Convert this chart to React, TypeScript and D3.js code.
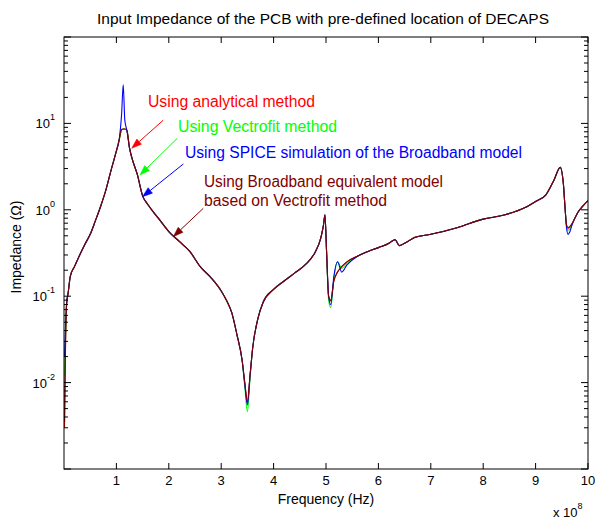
import React from 'react';
import * as d3 from 'd3';

// Frequency in units of 1e8 Hz
const freq = [
  0.01, 0.03, 0.05, 0.08, 0.12, 0.2, 0.3, 0.4, 0.5, 0.6,
  0.7, 0.8, 0.9, 1.0, 1.05, 1.1, 1.13, 1.16, 1.2, 1.25,
  1.3, 1.4, 1.5, 1.6, 1.8, 2.0, 2.2, 2.4, 2.6, 2.8,
  3.0, 3.1, 3.2, 3.3, 3.4, 3.45, 3.5, 3.55, 3.6, 3.7,
  3.8, 4.0, 4.2, 4.4, 4.6, 4.8, 4.9, 4.95, 4.98, 5.01,
  5.05, 5.09, 5.15, 5.22, 5.3, 5.4, 5.6, 5.8, 6.0, 6.2,
  6.25, 6.32, 6.4, 6.5, 6.7, 7.0, 7.5, 8.0, 8.4, 8.8,
  9.0, 9.2, 9.35, 9.47, 9.53, 9.56, 9.59, 9.62, 9.65, 9.7,
  9.8, 9.9, 10.0,
];

const analytical = [
  0.003, 0.03, 0.08, 0.11, 0.17, 0.22, 0.3, 0.4, 0.52, 0.75,
  1.1, 1.7, 2.9, 4.8, 6.3, 8.5, 8.6, 8.6, 8.3, 5.2,
  3.9, 2.55, 1.45, 1.15, 0.8, 0.56, 0.43, 0.33, 0.22, 0.165,
  0.115, 0.09, 0.065, 0.036, 0.018, 0.01, 0.0058, 0.012, 0.025, 0.055,
  0.085, 0.12, 0.15, 0.185, 0.23, 0.33, 0.47, 0.65, 0.87, 0.34,
  0.1, 0.09, 0.15, 0.19, 0.22, 0.25, 0.29, 0.33, 0.365, 0.41,
  0.43, 0.45, 0.385, 0.41, 0.48, 0.52, 0.62, 0.78, 0.87, 1.06,
  1.25, 1.5, 2.2, 3.1, 2.0, 1.1, 0.67, 0.61, 0.63, 0.7,
  0.92, 1.1, 1.28,
];

const vectfit = [
  0.012, 0.035, 0.08, 0.11, 0.17, 0.22, 0.3, 0.4, 0.52, 0.75,
  1.1, 1.7, 2.9, 4.8, 6.3, 8.5, 8.6, 8.6, 8.3, 5.2,
  3.9, 2.55, 1.45, 1.15, 0.8, 0.56, 0.43, 0.33, 0.22, 0.165,
  0.115, 0.09, 0.065, 0.036, 0.018, 0.009, 0.0046, 0.011, 0.025, 0.055,
  0.085, 0.12, 0.15, 0.185, 0.23, 0.33, 0.47, 0.65, 0.86, 0.33,
  0.09, 0.074, 0.16, 0.25, 0.21, 0.24, 0.29, 0.33, 0.365, 0.41,
  0.43, 0.45, 0.385, 0.41, 0.48, 0.52, 0.62, 0.78, 0.87, 1.06,
  1.25, 1.5, 2.2, 3.1, 2.0, 1.1, 0.66, 0.58, 0.6, 0.7,
  0.92, 1.1, 1.28,
];

const spice = [
  0.02, 0.045, 0.085, 0.11, 0.17, 0.22, 0.3, 0.4, 0.52, 0.75,
  1.1, 1.7, 2.9, 4.8, 6.3, 13, 28, 11, 8.3, 5.2,
  3.9, 2.55, 1.45, 1.15, 0.8, 0.56, 0.43, 0.33, 0.22, 0.165,
  0.115, 0.09, 0.065, 0.036, 0.018, 0.0095, 0.0055, 0.012, 0.025, 0.055,
  0.085, 0.12, 0.15, 0.185, 0.23, 0.33, 0.47, 0.66, 0.88, 0.34,
  0.1, 0.08, 0.17, 0.25, 0.19, 0.23, 0.29, 0.33, 0.365, 0.41,
  0.43, 0.45, 0.385, 0.41, 0.48, 0.52, 0.62, 0.78, 0.87, 1.06,
  1.25, 1.5, 2.2, 3.1, 2.0, 1.1, 0.62, 0.52, 0.55, 0.68,
  0.92, 1.1, 1.28,
];

const broadband = [
  0.0035, 0.03, 0.08, 0.11, 0.17, 0.22, 0.3, 0.4, 0.52, 0.75,
  1.1, 1.7, 2.9, 4.8, 6.3, 8.5, 8.6, 8.6, 8.3, 5.2,
  3.9, 2.55, 1.45, 1.15, 0.8, 0.56, 0.43, 0.33, 0.22, 0.165,
  0.115, 0.09, 0.065, 0.036, 0.018, 0.01, 0.006, 0.012, 0.025, 0.055,
  0.085, 0.12, 0.15, 0.185, 0.23, 0.33, 0.47, 0.65, 0.87, 0.34,
  0.1, 0.088, 0.15, 0.19, 0.22, 0.25, 0.29, 0.33, 0.365, 0.41,
  0.43, 0.45, 0.385, 0.41, 0.48, 0.52, 0.62, 0.78, 0.87, 1.06,
  1.25, 1.5, 2.2, 3.1, 2.0, 1.1, 0.67, 0.62, 0.64, 0.7,
  0.92, 1.1, 1.28,
];

const xTickValues = [1, 2, 3, 4, 5, 6, 7, 8, 9, 10];
const yDecades = [-3, -2, -1, 0, 1, 2];
const yLabelExps = [-2, -1, 0, 1];

const seriesNames = ['analytical', 'vectfit', 'spice', 'broadband'];
const seriesColors = ['#ff0000', '#00ff00', '#0000ff', '#800000'];

const labelTexts = [
  'Using analytical method',
  'Using Vectrofit method',
  'Using SPICE simulation of the Broadband model',
  'Using Broadband equivalent model',
  'based on Vectrofit method',
];
const labelColors = ['#ff0000', '#00ff00', '#0000ff', '#800000', '#800000'];
// label anchors in data coordinates (freq x1e8, impedance)
const labelF = [1.603, 2.176, 2.309, 2.672, 2.672];
const labelV = [15.5, 7.94, 3.93, 1.86, 1.107];
const labelWidths = [167, 159, 337, 239, 183];

// arrows: start and tip in data coordinates
const arrowColors = ['#ff0000', '#00ff00', '#0000ff', '#800000'];
const arrowStartF = [1.895, 2.162, 2.277, 2.658];
const arrowStartV = [10.9, 6.72, 3.39, 1.04];
const arrowTipF = [1.292, 1.45, 1.498, 2.086];
const arrowTipV = [5.15, 2.53, 1.418, 0.489];

const W = 595;
const H = 521;
const L = 64, R = 588, T = 37, B = 469;
const FONT = '"Liberation Sans", Arial, sans-serif';

export default function App() {
  const x = d3.scaleLinear().domain([0, 10]).range([L, R]);
  const y = d3.scaleLog().domain([1e-3, 1e2]).range([B, T]);
  const allSeries = [analytical, vectfit, spice, broadband];

  const line = d3
    .line<number>()
    .x((_, i) => x(freq[i]))
    .y((d) => y(d))
    .curve(d3.curveMonotoneX);

  const minorTicks: number[] = [];
  yDecades.slice(0, -1).forEach((e) => {
    for (let k = 2; k <= 9; k++) minorTicks.push(k * Math.pow(10, e));
  });

  return (
    <svg
      width={W}
      height={H}
      style={{ position: 'absolute', left: 0, top: 0, background: '#fff' }}
      fontFamily={FONT}
    >
      <rect x={0} y={0} width={W} height={H} fill="#fff" />
      <defs>
        <clipPath id="plotclip">
          <rect x={L} y={T} width={R - L} height={B - T} />
        </clipPath>
      </defs>

      {/* title */}
      <text x={97} y={24} fontSize={15} textLength={452} lengthAdjust="spacingAndGlyphs" fill="#000">
        Input Impedance of the PCB with pre-defined location of DECAPS
      </text>

      {/* series */}
      <g clipPath="url(#plotclip)">
        {allSeries.map((s, i) => (
          <path
            key={seriesNames[i]}
            d={line(s) || ''}
            fill="none"
            stroke={seriesColors[i]}
            strokeWidth={1.1}
          />
        ))}
      </g>

      {/* axes box */}
      <rect x={L} y={T} width={R - L} height={B - T} fill="none" stroke="#000" strokeWidth={1} />

      {/* x ticks */}
      {xTickValues.map((v) => (
        <g key={'xt' + v}>
          <line x1={x(v)} x2={x(v)} y1={B} y2={B - 6} stroke="#000" />
          <line x1={x(v)} x2={x(v)} y1={T} y2={T + 6} stroke="#000" />
          <text x={x(v)} y={485} fontSize={13} textAnchor="middle" fill="#000">
            {v}
          </text>
        </g>
      ))}

      {/* y major ticks */}
      {yDecades.map((e) => (
        <g key={'yd' + e}>
          <line x1={L} x2={L + 7} y1={y(Math.pow(10, e))} y2={y(Math.pow(10, e))} stroke="#000" />
          <line x1={R} x2={R - 7} y1={y(Math.pow(10, e))} y2={y(Math.pow(10, e))} stroke="#000" />
        </g>
      ))}
      {minorTicks.map((v, i) => (
        <g key={'ym' + i}>
          <line x1={L} x2={L + 4} y1={y(v)} y2={y(v)} stroke="#000" />
          <line x1={R} x2={R - 4} y1={y(v)} y2={y(v)} stroke="#000" />
        </g>
      ))}
      {yLabelExps.map((e) => (
        <text key={'yl' + e} x={55} y={y(Math.pow(10, e)) + 5} fontSize={13} textAnchor="end" fill="#000">
          10
          <tspan fontSize={9} dy={-8}>
            {e}
          </tspan>
        </text>
      ))}

      {/* axis labels */}
      <text x={(L + R) / 2} y={504} fontSize={14} textAnchor="middle" fill="#000">
        Frequency (Hz)
      </text>
      <text x={553} y={517} fontSize={13} fill="#000">
        x 10
        <tspan fontSize={9} dy={-8}>
          8
        </tspan>
      </text>
      <text
        transform={`translate(21, 247) rotate(-90)`}
        fontSize={14}
        textAnchor="middle"
        fill="#000"
      >
        Impedance (Ω)
      </text>

      {/* annotations */}
      {labelTexts.map((t, i) => (
        <text
          key={'lab' + i}
          x={x(labelF[i])}
          y={y(labelV[i])}
          fontSize={16}
          fill={labelColors[i]}
          textLength={labelWidths[i]}
          lengthAdjust="spacingAndGlyphs"
        >
          {t}
        </text>
      ))}
      {arrowColors.map((c, i) => {
        const x0 = x(arrowStartF[i]);
        const y0 = y(arrowStartV[i]);
        const x1 = x(arrowTipF[i]);
        const y1 = y(arrowTipV[i]);
        const ang = Math.atan2(y1 - y0, x1 - x0);
        const len = 10;
        const hw = 3.5;
        const bx = x1 - len * Math.cos(ang);
        const by = y1 - len * Math.sin(ang);
        const px = -Math.sin(ang) * hw;
        const py = Math.cos(ang) * hw;
        return (
          <g key={'ar' + i}>
            <line x1={x0} y1={y0} x2={bx} y2={by} stroke={c} strokeWidth={1} />
            <polygon
              points={`${x1},${y1} ${bx + px},${by + py} ${bx - px},${by - py}`}
              fill={c}
              stroke={c}
              strokeWidth={0.5}
            />
          </g>
        );
      })}
    </svg>
  );
}
